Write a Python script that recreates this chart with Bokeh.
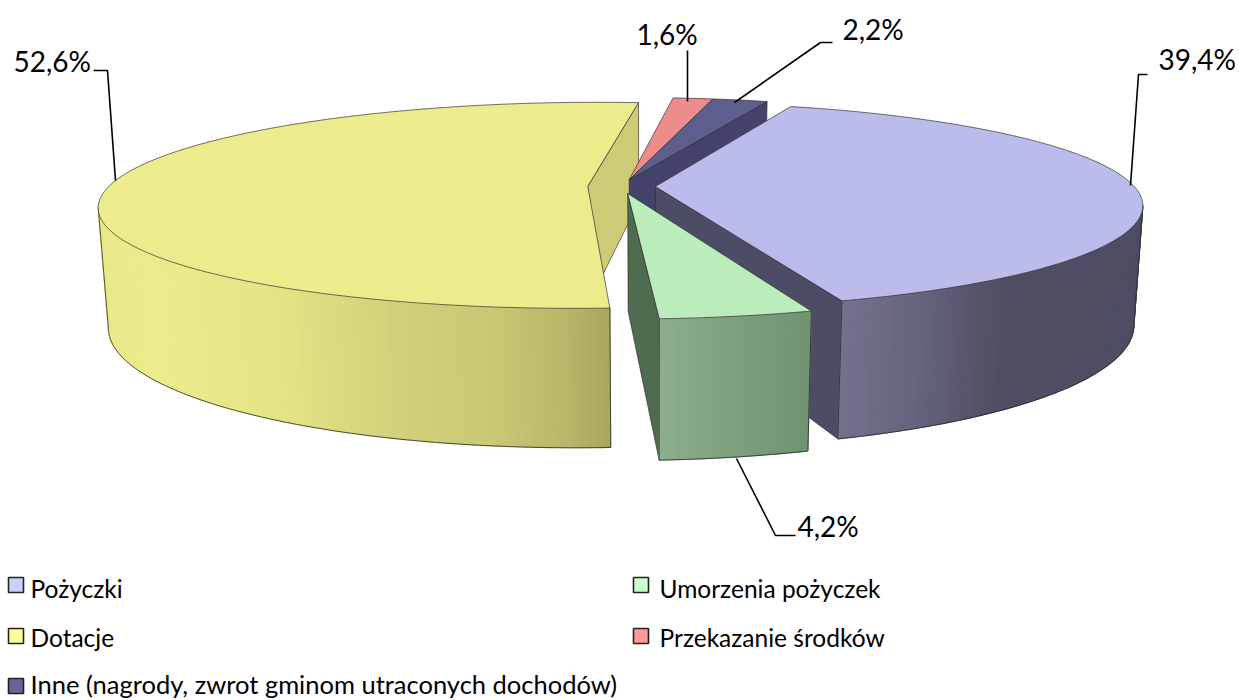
import math
from bokeh.plotting import figure
from bokeh.models import Range1d
from bokeh.core.properties import value
from bokeh.embed import file_html
from bokeh.resources import INLINE

categories = ["Pożyczki", "Umorzenia pożyczek", "Dotacje", "Przekazanie środków",
              "Inne (nagrody, zwrot gminom utraconych dochodów)"]
shares = [39.4, 4.2, 52.6, 1.6, 2.2]
share_labels = ["39,4%", "4,2%", "52,6%", "1,6%", "2,2%"]
legend_colors = ["#CCCCFF", "#CCFFCC", "#FFFF99", "#FF9999", "#666699"]
top_colors = ["#BCBCEC", "#BAEDBB", "#ECEC8C", "#EC8C8C", "#5E5E8C"]
radial_colors = ["#4D4C66", "#4F6B50", "#CDCB76", "#A06060", "#43436B"]
# outer wall shade: (screen x, colour) stops
wall_stops = [
    [(848, "#72708C"), (920, "#65647E"), (980, "#545369"), (1010, "#4E4D64"), (1140, "#4E4D64")],
    [(655, "#8EAF8E"), (815, "#6E9170")],
    [(100, "#E9E98A"), (150, "#ECEC8C"), (280, "#E4E385"), (330, "#DADA80"), (400, "#D1D07A"),
     (500, "#C8C673"), (560, "#B9B76A"), (607, "#A9A75F")],
    [(660, "#A06060"), (710, "#A06060")],
    [(700, "#43436B"), (770, "#43436B")],
]

# projection of the pie's disc (unit radius, height 0..1) to the page
CX, CY = 621.0, 186.0
VX = 650.0
A, B, DEPTH = 479.0, 99.6, 118.5
K, M = 0.184, 0.018
START = 19.5
EXPLODE = 0.0705


def project(u, v, h):
    w = 1 - K * v + M * h
    c = (CX - VX) / A
    return VX + A * (u + c) / w, CY + (B * v + DEPTH * h) / w


def hex2rgb(c):
    return tuple(int(c[i:i + 2], 16) for i in (1, 3, 5))


def shade(stops, x):
    if x <= stops[0][0]:
        return stops[0][1]
    for (x0, c0), (x1, c1) in zip(stops, stops[1:]):
        if x <= x1:
            t = (x - x0) / (x1 - x0)
            a, b = hex2rgb(c0), hex2rgb(c1)
            return "#%02X%02X%02X" % tuple(round(a[i] + (b[i] - a[i]) * t) for i in range(3))
    return stops[-1][1]


p = figure(width=1239, height=700, x_range=Range1d(0, 1239), y_range=Range1d(700, 0),
           output_backend="svg", toolbar_location=None, min_border=0,
           outline_line_color=None, background_fill_color="white")
p.axis.visible = False
p.grid.visible = False

# slice angle spans (clockwise from the back of the pie)
spans = []
a0 = START
for s in shares:
    spans.append((a0, a0 + s * 3.6))
    a0 += s * 3.6

EDGE = "#2b2b2b"
for idx in [2, 3, 4, 0, 1]:  # painter's order
    t0, t1 = spans[idx]
    # the two small slices move out together
    if idx in (3, 4):
        mid = math.radians((spans[3][0] + spans[4][1]) / 2)
    else:
        mid = math.radians((t0 + t1) / 2)
    ou, ov = EXPLODE * math.sin(mid), -EXPLODE * math.cos(mid)
    n = max(6, int((t1 - t0) / 0.8))
    rim = []
    for i in range(n + 1):
        t = math.radians(t0 + (t1 - t0) * i / n)
        rim.append((ou + math.sin(t), ov - math.cos(t)))
    ring = [(ou, ov)] + rim + [(ou, ov)]
    # radial walls that face the viewer
    if idx != 3:
        for (a, b) in [(ring[0], ring[1]), (ring[-2], ring[-1])]:
            ta, tb = project(*a, 0), project(*b, 0)
            if tb[0] - ta[0] < 0:
                ba, bb = project(*a, 1), project(*b, 1)
                xs = [ta[0], tb[0], bb[0], ba[0]]
                ys = [ta[1], tb[1], bb[1], ba[1]]
                p.patch(xs, ys, fill_color=radial_colors[idx], line_color=EDGE, line_width=0.8, line_alpha=0.8)
    # outer wall, drawn as narrow quads
    vis = [(a, b) for a, b in zip(rim, rim[1:]) if project(*b, 0)[0] < project(*a, 0)[0]]
    lo_x, lo_y = [], []
    for a, b in vis:
        ta, tb = project(*a, 0), project(*b, 0)
        ba, bb = project(*a, 1), project(*b, 1)
        col = shade(wall_stops[idx], (ta[0] + tb[0]) / 2)
        p.patch([ta[0], tb[0], bb[0], ba[0]], [ta[1], tb[1], bb[1], ba[1]],
                fill_color=col, line_color=col, line_width=1.2)
        lo_x += [ba[0], bb[0]]
        lo_y += [ba[1], bb[1]]
    if vis and idx in (0, 1, 2):
        p.line(lo_x, lo_y, line_color=EDGE, line_width=1, line_alpha=0.8)
        for pt in (vis[0][0], vis[-1][1]):
            q0, q1 = project(*pt, 0), project(*pt, 1)
            p.line([q0[0], q1[0]], [q0[1], q1[1]], line_color=EDGE, line_width=1, line_alpha=0.8)
    # top face
    pts = [project(*q, 0) for q in ring]
    p.patch([q[0] for q in pts], [q[1] for q in pts], fill_color=top_colors[idx],
            line_color=EDGE, line_width=0.9, line_alpha=0.75)

# leader lines
leaders = [
    ([1147, 1138, 1130], [74, 74, 185]),
    ([795, 775, 736], [535, 535, 458]),
    ([93, 107, 115], [70, 70, 180]),
    ([687, 687], [50, 101]),
    ([832, 820, 734], [42, 42, 102]),
]
for xs, ys in leaders:
    p.line(xs, ys, line_color="black", line_width=1.6)

label_x = [1158, 797, 13, 636, 842]
label_y = [58, 525, 60, 33, 28]
p.text(label_x, label_y, text=share_labels, text_font=value("Lato"), text_font_size="28px",
       text_align="left", text_baseline="middle", text_color="black")

# legend
leg_x = [8, 633, 8, 633, 8]
leg_y = [577, 577, 628, 628, 678]
for lx, ly, c in zip(leg_x, leg_y, legend_colors):
    p.patch([lx, lx + 15, lx + 15, lx], [ly, ly, ly + 15, ly + 15], fill_color=c,
            line_color="#222222", line_width=1.6)
text_x = [30, 659, 30, 659, 30]
text_y = [588, 588, 637, 637, 683]
text_sizes = ["24.5px", "24.5px", "24.5px", "24.5px", "25.5px"]
for tx, ty, txt, fs in zip(text_x, text_y, categories, text_sizes):
    p.text([tx], [ty], text=[txt], text_font=value("Lato"), text_font_size=fs, text_align="left",
           text_baseline="middle", text_color="black")

open("out.html", "w").write(file_html(p, INLINE))
